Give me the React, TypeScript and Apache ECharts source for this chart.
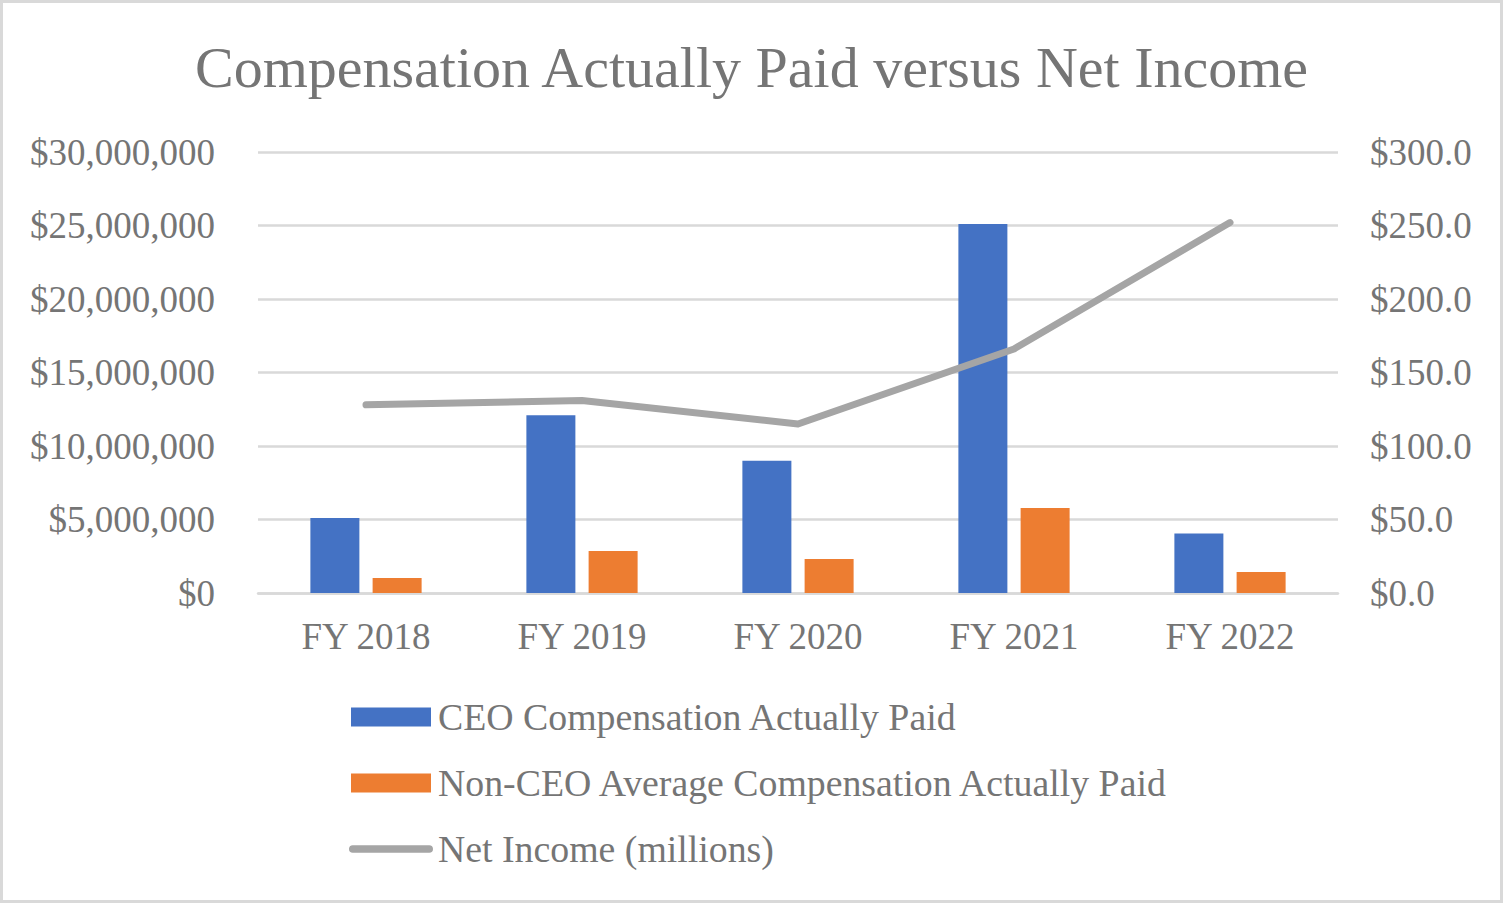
import React, { useEffect, useRef } from "react";
import * as echarts from "echarts";

const categories = ["FY 2018", "FY 2019", "FY 2020", "FY 2021", "FY 2022"];
const ceoComp = [5100000, 12100000, 9000000, 25100000, 4050000];
const nonCeoComp = [1020000, 2850000, 2320000, 5780000, 1430000];
const netIncome = [128, 131, 115, 166, 252];
const leftTicks = { min: 0, max: 30000000, interval: 5000000 };
const rightTicks = { min: 0, max: 300, interval: 50 };

const FONT = "'Liberation Serif', 'Times New Roman', serif";
const TXT = "#757575";
const GRID = "#d9d9d9";
const RECT_ICON = "path://M0,0 L80,0 L80,19 L0,19 Z";
const LINE_ICON = "path://M4,0 L84,0 A4,4 0 0 1 84,8 L4,8 A4,4 0 0 1 4,0 Z";

export default function App() {
  const ref = useRef<HTMLDivElement>(null);
  useEffect(() => {
    document.body.style.margin = "0";
    const chart = echarts.init(ref.current!, null, { renderer: "svg" });
    chart.setOption({
      animation: false,
      backgroundColor: "#ffffff",
      textStyle: { fontFamily: FONT },
      title: {
        text: "Compensation Actually Paid versus Net Income",
        left: "center",
        top: 33,
        textStyle: { fontFamily: FONT, fontSize: 58, fontWeight: "normal", color: TXT },
      },
      graphic: [
        {
          type: "rect",
          shape: { x: 1.5, y: 1.5, width: 1500, height: 900 },
          style: { fill: "none", stroke: GRID, lineWidth: 3 },
          silent: true,
        },
      ],
      legend: {
        orient: "vertical",
        left: 344,
        top: 692,
        itemWidth: 84,
        itemHeight: 19,
        itemGap: 26,
        textStyle: { fontFamily: FONT, fontSize: 37.8, color: TXT, lineHeight: 40, padding: [0, 0, 0, 0] },
        data: [
          { name: "CEO Compensation Actually Paid", icon: RECT_ICON },
          { name: "Non-CEO Average Compensation Actually Paid", icon: RECT_ICON },
          { name: "Net Income (millions)", icon: LINE_ICON, itemStyle: { color: "#A5A5A5" } },
        ],
      },
      grid: { left: 258, right: 165, top: 152, bottom: 310, containLabel: false },
      xAxis: {
        type: "category",
        data: categories,
        axisLine: { show: true, lineStyle: { color: GRID, width: 2.5 } },
        axisTick: { show: false },
        axisLabel: { fontFamily: FONT, fontSize: 37, color: TXT, margin: 25 },
      },
      yAxis: [
        {
          type: "value",
          min: leftTicks.min,
          max: leftTicks.max,
          interval: leftTicks.interval,
          axisLine: { show: false },
          axisTick: { show: false },
          splitLine: { lineStyle: { color: GRID, width: 2.5 } },
          axisLabel: {
            fontFamily: FONT,
            fontSize: 37,
            color: TXT,
            margin: 43,
            formatter: (v: number) => "$" + v.toLocaleString("en-US"),
          },
        },
        {
          type: "value",
          min: rightTicks.min,
          max: rightTicks.max,
          interval: rightTicks.interval,
          axisLine: { show: false },
          axisTick: { show: false },
          splitLine: { show: false },
          axisLabel: {
            fontFamily: FONT,
            fontSize: 37,
            color: TXT,
            margin: 32,
            formatter: (v: number) => "$" + v.toFixed(1),
          },
        },
      ],
      series: [
        {
          name: "CEO Compensation Actually Paid",
          type: "bar",
          data: ceoComp,
          barWidth: 49,
          barGap: "27%",
          itemStyle: { color: "#4472C4" },
        },
        {
          name: "Non-CEO Average Compensation Actually Paid",
          type: "bar",
          data: nonCeoComp,
          barWidth: 49,
          barGap: "27%",
          itemStyle: { color: "#ED7D31" },
        },
        {
          name: "Net Income (millions)",
          type: "line",
          yAxisIndex: 1,
          data: netIncome,
          symbol: "none",
          itemStyle: { color: "#A5A5A5" },
          lineStyle: { color: "#A5A5A5", width: 7, cap: "round", join: "round" },
        },
      ],
    });
    return () => chart.dispose();
  }, []);
  return <div ref={ref} style={{ width: 1503, height: 903 }} />;
}
